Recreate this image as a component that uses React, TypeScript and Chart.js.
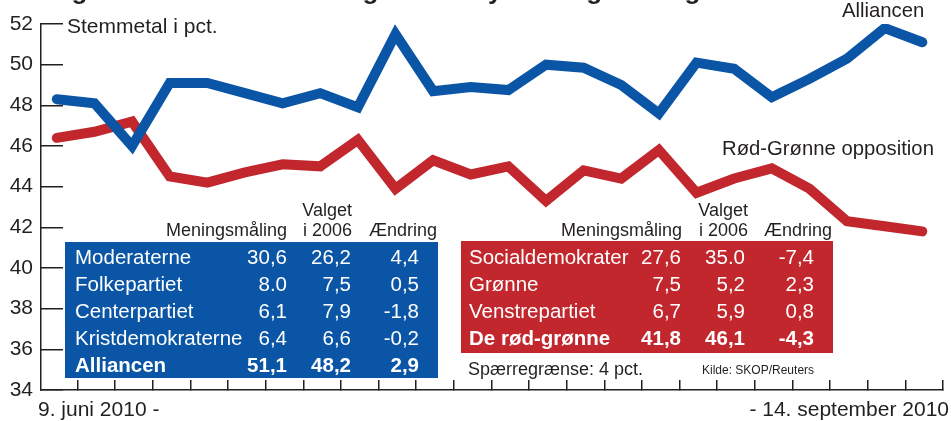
import React, { useEffect, useRef } from "react";
import { Chart, registerables } from "chart.js";
Chart.register(...registerables);

// ---- data ----
const alliancen = [48.3, 48.1, 46.0, 49.1, 49.1, 48.6, 48.1, 48.6, 47.9, 51.5, 48.7, 48.9, 48.75, 50.0, 49.85, 49.0, 47.6, 50.1, 49.8, 48.4, 49.3, 50.3, 51.8, 51.1];
const roedGroenne = [46.4, 46.7, 47.2, 44.5, 44.2, 44.7, 45.1, 45.0, 46.3, 43.9, 45.3, 44.6, 45.0, 43.3, 44.8, 44.4, 45.8, 43.7, 44.4, 44.9, 43.9, 42.3, 42.05, 41.8];
const yTicks = [34, 36, 38, 40, 42, 44, 46, 48, 50, 52];
const xTickOffsets = alliancen.map((_, i) => i + 0.55);

const blueParties = ["Moderaterne", "Folkepartiet", "Centerpartiet", "Kristdemokraterne", "Alliancen"];
const bluePoll = ["30,6", "8.0", "6,1", "6,4", "51,1"];
const blueElection = ["26,2", "7,5", "7,9", "6,6", "48,2"];
const blueChange = ["4,4", "0,5", "-1,8", "-0,2", "2,9"];

const redParties = ["Socialdemokrater", "Grønne", "Venstrepartiet", "De rød-grønne"];
const redPoll = ["27,6", "7,5", "6,7", "41,8"];
const redElection = ["35.0", "5,2", "5,9", "46,1"];
const redChange = ["-7,4", "2,3", "0,8", "-4,3"];

const headers = ["Meningsmåling", "Valget", "i 2006", "Ændring"];

// ---- styles ----
const W = 951;
const H = 421;
const FONT = '"Liberation Sans", Arial, sans-serif';
const INK = "#231f20";
const BLUE = "#0a55a5";
const RED = "#c1272d";

type TProps = { x: number; base: number; size: number; text: string; align?: "left" | "right"; bold?: boolean; color?: string };
function T({ x, base, size, text, align = "left", bold = false, color = INK }: TProps) {
  const style: React.CSSProperties = {
    position: "absolute",
    top: base - 0.8465 * size,
    fontSize: size,
    lineHeight: size + "px",
    fontFamily: FONT,
    fontWeight: bold ? 700 : 400,
    color,
    whiteSpace: "nowrap",
  };
  if (align === "left") style.left = x;
  else style.right = W - x;
  return <div style={style}>{text}</div>;
}

type TableProps = {
  bg: string; left: number; top: number; right: number; bottom: number;
  labelX: number; cols: number[]; hdr: number[];
  parties: string[]; a: string[]; b: string[]; c: string[];
};
function Table(p: TableProps) {
  const rowBase = [264, 291, 318, 345, 372];
  const rs = 20.5;
  const last = p.parties.length - 1;
  return (
    <>
      <div style={{ position: "absolute", left: p.left, top: p.top, width: p.right - p.left, height: p.bottom - p.top, background: p.bg }} />
      <T x={p.hdr[0]} base={236.5} size={18} text={headers[0]} align="right" />
      <T x={p.hdr[1]} base={216.5} size={18} text={headers[1]} align="right" />
      <T x={p.hdr[1]} base={236.5} size={18} text={headers[2]} align="right" />
      <T x={p.hdr[2]} base={236.5} size={18} text={headers[3]} align="right" />
      {p.parties.map((name, i) => (
        <React.Fragment key={name}>
          <T x={p.labelX} base={rowBase[i]} size={rs} text={name} color="#fff" bold={i === last} />
          <T x={p.cols[0]} base={rowBase[i]} size={rs} text={p.a[i]} color="#fff" bold={i === last} align="right" />
          <T x={p.cols[1]} base={rowBase[i]} size={rs} text={p.b[i]} color="#fff" bold={i === last} align="right" />
          <T x={p.cols[2]} base={rowBase[i]} size={rs} text={p.c[i]} color="#fff" bold={i === last} align="right" />
        </React.Fragment>
      ))}
    </>
  );
}

export default function App() {
  const ref = useRef<HTMLCanvasElement | null>(null);

  useEffect(() => {
    if (!ref.current) return;
    const chart = new Chart(ref.current, {
      type: "line",
      data: {
        datasets: [
          {
            label: "Alliancen",
            data: alliancen.map((v, i) => ({ x: i, y: v })),
            borderColor: BLUE,
            borderWidth: 10,
            pointRadius: 0,
            tension: 0,
            borderJoinStyle: "miter",
            borderCapStyle: "round",
          },
          {
            label: "Rød-Grønne opposition",
            data: roedGroenne.map((v, i) => ({ x: i, y: v })),
            borderColor: RED,
            borderWidth: 10,
            pointRadius: 0,
            tension: 0,
            borderJoinStyle: "miter",
            borderCapStyle: "round",
          },
        ],
      },
      options: {
        animation: false,
        responsive: false,
        devicePixelRatio: 1,
        layout: { padding: { top: 24, right: 8, left: 0, bottom: 0 }, autoPadding: false },
        plugins: { legend: { display: false }, tooltip: { enabled: false }, title: { display: false } },
        scales: {
          x: {
            type: "linear",
            min: -0.42,
            max: 23.55,
            afterBuildTicks: (s: any) => {
              s.ticks = xTickOffsets.map((v) => ({ value: v }));
            },
            afterFit: (s: any) => {
              s.height = 31;
              s.paddingLeft = 0;
              s.paddingRight = 0;
            },
            ticks: { display: false },
            grid: { drawOnChartArea: false, tickLength: -10, color: INK, lineWidth: 1.5 },
            border: { display: true, color: INK, width: 1.5 },
          },
          y: {
            type: "linear",
            min: 34,
            max: 52,
            afterBuildTicks: (s: any) => {
              s.ticks = yTicks.map((v) => ({ value: v }));
            },
            afterFit: (s: any) => {
              s.width = 41;
              s.paddingTop = 0;
              s.paddingBottom = 0;
            },
            ticks: { padding: 30, color: INK, font: { family: FONT, size: 21 } },
            grid: { drawOnChartArea: false, tickLength: -22, color: INK, lineWidth: 1.5 },
            border: { display: true, color: INK, width: 1.5 },
          },
        },
      },
    });
    return () => chart.destroy();
  }, []);

  return (
    <div style={{ position: "fixed", left: 0, top: 0, width: W, height: H, overflow: "hidden", background: "#fff" }}>
      <canvas ref={ref} width={W} height={H} style={{ position: "absolute", left: 0, top: 0, width: W, height: H }} />
      <T x={8} base={-1} size={26} bold text="Sverige: Alliancen foran rød-grønne i ny meningsmåling" />
      <T x={67} base={33} size={21} text="Stemmetal i pct." />
      <T x={842} base={17.5} size={20.3} text="Alliancen" />
      <T x={722} base={155} size={20.3} text="Rød-Grønne opposition" />
      <Table bg={BLUE} left={65} top={242} right={438} bottom={378} labelX={75}
        cols={[287, 351, 419]} hdr={[287, 352, 437]}
        parties={blueParties} a={bluePoll} b={blueElection} c={blueChange} />
      <Table bg={RED} left={461} top={241} right={833} bottom={353} labelX={469}
        cols={[681, 745, 814]} hdr={[682, 748, 832]}
        parties={redParties} a={redPoll} b={redElection} c={redChange} />
      <T x={468} base={375} size={18} text="Spærregrænse: 4 pct." />
      <T x={702} base={374} size={12} text="Kilde: SKOP/Reuters" />
      <T x={38} base={416} size={21} text="9. juni 2010 -" />
      <T x={949} base={416} size={21} text="- 14. september 2010" align="right" />
    </div>
  );
}
